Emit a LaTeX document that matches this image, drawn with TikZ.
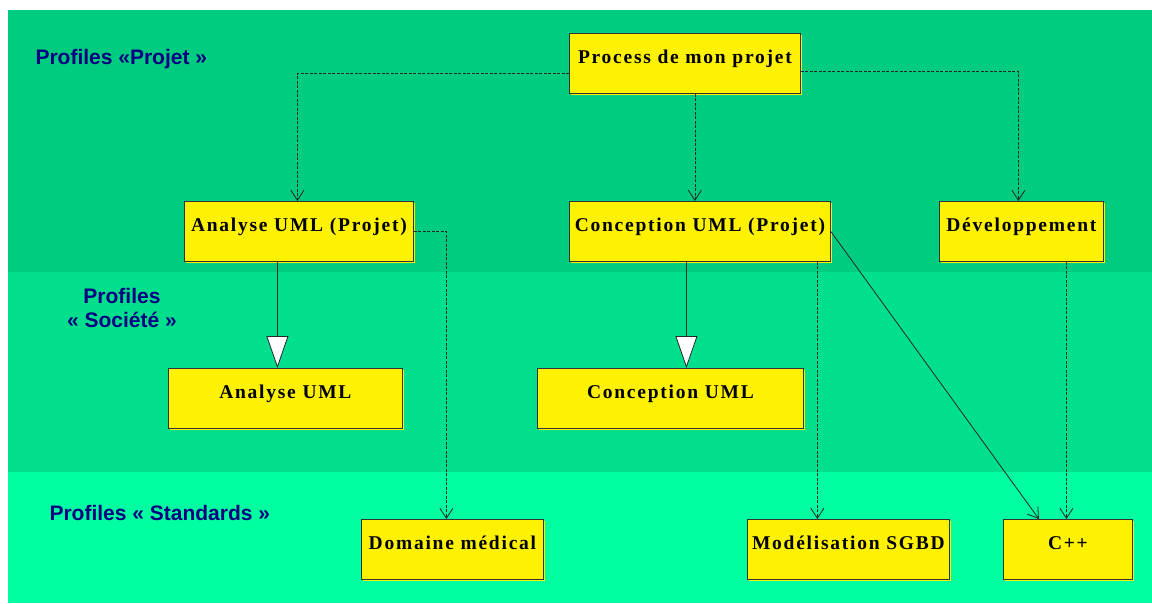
\documentclass[tikz,border=0pt]{standalone}
\usepackage{fontspec}
\setmainfont{Liberation Serif}
\newfontfamily\profilefont{Liberation Sans}
\newfontfamily\boxfont[LetterSpace=9]{Liberation Serif}
\usetikzlibrary{arrows.meta,shadows}

\definecolor{projetgreen}{RGB}{0,204,128}
\definecolor{societegreen}{RGB}{0,224,140}
\definecolor{standardgreen}{RGB}{0,255,160}
\definecolor{profileblue}{RGB}{0,0,128}

\tikzset{
  profil/.style={draw=black!80, fill=yellow, line width=0.8pt, anchor=north west,
    minimum height=60pt, inner ysep=0pt, text height=30pt, text depth=30pt,
    font=\boxfont\bfseries\fontsize{19.5}{22}\selectfont,
    drop shadow={fill=yellow, opacity=1, shadow xshift=2pt, shadow yshift=-2pt}},
  couche/.style={text=profileblue, font=\profilefont\bfseries\fontsize{21}{24}\selectfont},
  dep/.style={draw=black!85, line width=0.8pt, dash pattern=on 3pt off 1.5pt,
    -{Straight Barb[length=10pt,width=13pt]}},
  assoc/.style={draw=black!85, line width=0.8pt, -{Straight Barb[length=10pt,width=13pt]}},
  gen/.style={draw=black!85, line width=0.8pt, -{Triangle[length=32pt,width=22pt,fill=white]}}
}

\begin{document}
\begin{tikzpicture}[x=1pt,y=-1pt]
  \useasboundingbox (0,0) rectangle (1152,603);
  % bandes
  \fill[projetgreen] (8,10) rectangle (1152,272);
  \fill[societegreen] (8,272) rectangle (1152,472);
  \fill[standardgreen] (8,472) rectangle (1152,603);

  \node[couche, anchor=west] (lprojet) at (32,59) {Profiles «Projet »};
  \node[couche, align=center] (lsociete) at (122,308) {Profiles\\« Société »};
  \node[couche, anchor=west] (lstandard) at (46,513) {Profiles « Standards »};

  % profils
  \node[profil, minimum width=231pt] (proc) at (569,33) {Process de mon projet};
  \node[profil, minimum width=229pt] (anap) at (184,201) {Analyse UML (Projet)};
  \node[profil, minimum width=261pt] (conp) at (569,201) {Conception UML (Projet)};
  \node[profil, minimum width=164pt] (dev) at (939,201) {Développement};
  \node[profil, minimum width=234pt] (ana) at (168,368) {Analyse UML};
  \node[profil, minimum width=266pt] (con) at (537,368) {Conception UML};
  \node[profil, minimum width=182pt] (dom) at (361,519) {Domaine médical};
  \node[profil, minimum width=202pt] (sgbd) at (747,519) {Modélisation SGBD};
  \node[profil, minimum width=129pt] (cpp) at (1003,519) {C++};

  % liens
  \draw[dep] ([yshift=-10pt]proc.west) -| ([xshift=-1.5pt]anap.north);
  \draw[dep] ([xshift=10pt]proc.south) -- ([xshift=10pt]proc.south |- conp.north);
  \draw[dep] ([yshift=-8pt]proc.east) -| ([xshift=-3pt]dev.north);
  \draw[dep] (anap.east) -| ([xshift=-6pt]dom.north);
  \draw[gen] ([xshift=-8pt]ana.north |- anap.south) -- ([xshift=-8pt]ana.north);
  \draw[gen] ([xshift=16pt]con.north |- conp.south) -- ([xshift=16pt]con.north);
  \draw[dep] ([xshift=-31pt]sgbd.north |- conp.south) -- ([xshift=-31pt]sgbd.north);
  \draw[assoc] (conp.east) -- ([xshift=-29pt]cpp.north);
  \draw[dep] ([xshift=-1.5pt]cpp.north |- dev.south) -- ([xshift=-1.5pt]cpp.north);
\end{tikzpicture}
\end{document}
